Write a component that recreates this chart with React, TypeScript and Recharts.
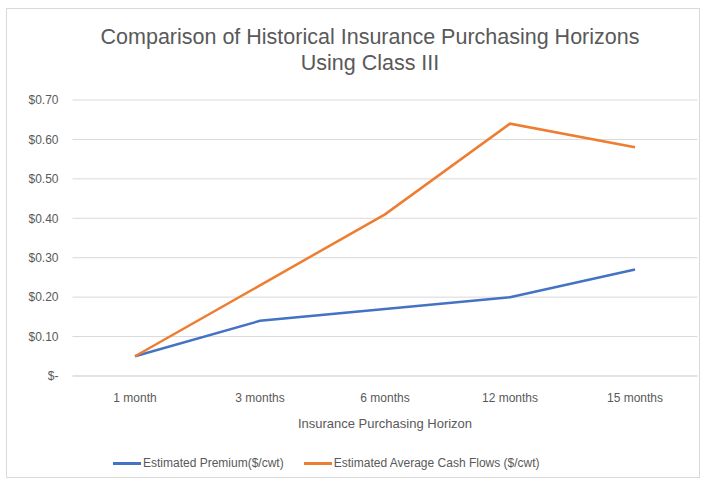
import { CartesianGrid, Line, LineChart, XAxis, YAxis } from "recharts";

// Excel-style line chart: two series across purchasing horizons, with the title and legend drawn as HTML.

const horizons = ["1 month", "3 months", "6 months", "12 months", "15 months"];
const premium = [0.05, 0.14, 0.17, 0.2, 0.27];
const cashFlows = [0.05, 0.23, 0.41, 0.64, 0.58];
const yTicks = [0, 0.1, 0.2, 0.3, 0.4, 0.5, 0.6, 0.7];

const series = [
  { key: "premium", label: "Estimated Premium($/cwt)", color: "#4472C4" },
  { key: "cashFlows", label: "Estimated Average Cash Flows ($/cwt)", color: "#ED7D31" },
];

const data = horizons.map((horizon, i) => ({ horizon, premium: premium[i], cashFlows: cashFlows[i] }));

const FONT = '"Liberation Sans", Arial, sans-serif';
const TEXT = "#595959";

const money = (v: number) => (v === 0 ? "$-" : `$${v.toFixed(2)}`);

export default function App() {
  return (
    <div style={{ position: "relative", width: 707, height: 485, fontFamily: FONT, background: "#fff" }}>
      <style>{"body{margin:0}"}</style>
      <div
        style={{
          position: "absolute",
          left: 6,
          top: 8,
          width: 694,
          height: 470,
          border: "1px solid #d9d9d9",
          boxSizing: "border-box",
        }}
      />
      <div
        style={{
          position: "absolute",
          left: 0,
          top: 24,
          width: 740,
          textAlign: "center",
          fontSize: 21.5,
          lineHeight: "26px",
          color: TEXT,
        }}
      >
        Comparison of Historical Insurance Purchasing Horizons
        <br />
        Using Class III
      </div>
      <div style={{ position: "absolute", left: 0, top: 0 }}>
        <LineChart width={707} height={485} data={data} margin={{ top: 100, right: 9.5, bottom: 49, left: 0 }}>
          <CartesianGrid vertical={false} stroke="#d9d9d9" />
          <XAxis
            dataKey="horizon"
            padding={{ left: 62.5, right: 62.5 }}
            tickLine={false}
            axisLine={{ stroke: "#d9d9d9" }}
            tick={{ fill: TEXT, fontSize: 12, fontFamily: FONT }}
            tickMargin={11}
            height={60}
            label={{
              value: "Insurance Purchasing Horizon",
              position: "insideBottom",
              offset: 8,
              fill: TEXT,
              fontSize: 13,
              fontFamily: FONT,
            }}
          />
          <YAxis
            width={72.5}
            domain={[0, 0.7]}
            ticks={yTicks}
            tickFormatter={money}
            tickLine={false}
            axisLine={false}
            tick={{ fill: TEXT, fontSize: 12, fontFamily: FONT }}
            tickMargin={8}
          />
          {series.map((s) => (
            <Line
              key={s.key}
              dataKey={s.key}
              name={s.label}
              stroke={s.color}
              strokeWidth={2.5}
              dot={false}
              type="linear"
              isAnimationActive={false}
            />
          ))}
        </LineChart>
      </div>
      <div
        style={{
          position: "absolute",
          left: 113,
          top: 455,
          display: "flex",
          gap: 20,
          fontSize: 12,
          color: TEXT,
          lineHeight: "16px",
        }}
      >
        {series.map((s) => (
          <div key={s.key} style={{ display: "flex", alignItems: "center" }}>
            <span style={{ width: 28, height: 3, background: s.color, display: "inline-block", marginRight: 2 }} />
            {s.label}
          </div>
        ))}
      </div>
    </div>
  );
}
